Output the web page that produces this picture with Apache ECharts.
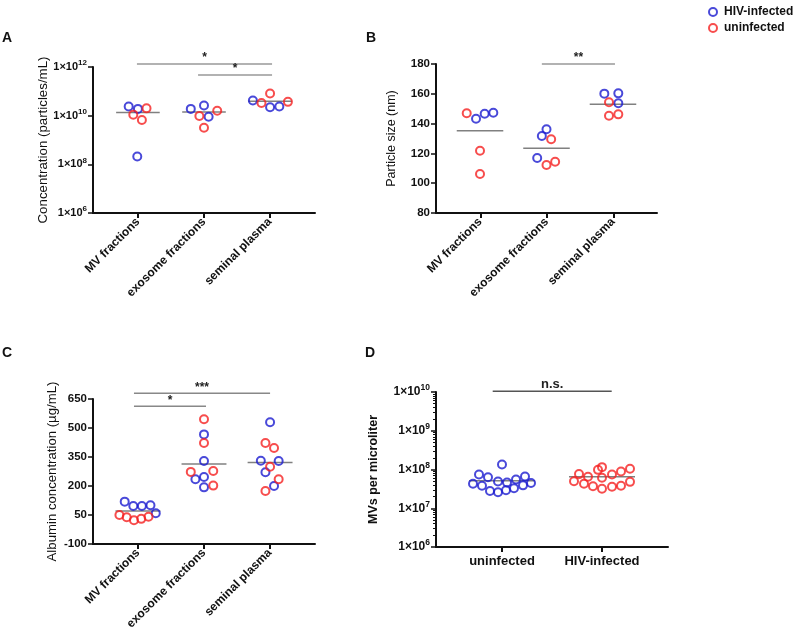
<!DOCTYPE html>
<html>
<head>
<meta charset="utf-8">
<script src="https://cdn.jsdelivr.net/npm/echarts@6/dist/echarts.min.js"></script>
<style>html,body{margin:0;padding:0;background:#fff}#c{width:800px;height:635px}</style>
</head>
<body>
<div id="c"></div>
<script>
// ---------- DATA ----------
const catsABC = ['MV fractions', 'exosome fractions', 'seminal plasma'];
const catsD = ['uninfected', 'HIV-infected'];

// Panel A: concentration (particles/mL), x = category position incl. jitter
const aBlueX = [0.86, 1.0, 0.99, 1.80, 2.0, 2.07, 2.74, 3.0, 3.14];
const aBlueY = [2.4e10, 1.9e10, 2.1e8, 1.9e10, 2.6e10, 9.1e9, 4.2e10, 2.2e10, 2.4e10];
const aRedX = [1.13, 0.93, 1.06, 2.20, 1.93, 2.0, 2.87, 3.0, 3.27];
const aRedY = [2.0e10, 1.1e10, 6.6e9, 1.6e10, 9.7e9, 3.2e9, 3.3e10, 8.2e10, 3.7e10];
const aMean = [1.35e10, 1.4e10, 3.9e10];
const aTickExp = [6, 8, 10, 12];

// Panel B: particle size (nm)
const bBlueX = [0.94, 1.07, 1.20, 2.0, 1.93, 1.86, 2.87, 3.08, 3.08];
const bBlueY = [143.3, 146.6, 147.3, 136.2, 131.7, 116.9, 160.1, 160.3, 153.6];
const bRedX = [0.80, 1.0, 1.0, 2.07, 2.0, 2.13, 2.94, 2.94, 3.08];
const bRedY = [146.9, 121.8, 106.2, 129.5, 112.2, 114.4, 154.3, 145.3, 146.2];
const bMean = [135.2, 123.4, 153.0];
const bTicks = [80, 100, 120, 140, 160, 180];

// Panel C: albumin concentration (µg/mL)
const cBlueX = [0.80, 0.93, 1.06, 1.19, 1.27, 2.0, 2.0, 1.87, 2.0, 2.0, 3.0, 2.86, 3.13, 2.93, 3.06];
const cBlueY = [119, 97, 97, 100, 59, 467, 329, 235, 247, 193, 530, 331, 329, 271, 200];
const cRedX = [0.72, 0.83, 0.94, 1.05, 1.16, 2.0, 2.0, 1.80, 2.14, 2.14, 2.93, 3.06, 3.0, 3.13, 2.93];
const cRedY = [50, 38, 23, 30, 41, 545, 422, 273, 278, 202, 422, 397, 300, 235, 174];
const cMean = [71, 314, 321];
const cTicks = [-100, 50, 200, 350, 500, 650];

// Panel D: MVs per microliter
const dUninfX = [1.0, 0.77, 0.86, 1.23, 0.96, 1.14, 1.05, 0.71, 0.80, 1.21, 1.29, 1.12, 0.88, 0.96, 1.04];
const dUninfY = [1.35e8, 7.4e7, 6.3e7, 6.6e7, 4.9e7, 5.5e7, 4.6e7, 4.3e7, 3.8e7, 3.9e7, 4.5e7, 3.3e7, 2.8e7, 2.6e7, 2.9e7];
const dHivX = [2.0, 1.96, 2.28, 2.19, 1.77, 2.10, 1.86, 2.0, 1.72, 2.28, 1.82, 1.91, 2.19, 2.10, 2.0];
const dHivY = [1.15e8, 9.8e7, 1.05e8, 8.9e7, 7.6e7, 7.4e7, 6.5e7, 6.1e7, 5.0e7, 4.8e7, 4.3e7, 3.7e7, 3.8e7, 3.6e7, 3.2e7];
const dMean = [5.1e7, 6.5e7];
const dTickExp = [6, 7, 8, 9, 10];

// significance brackets: [fromX, toX, yLevel, text]
const sigA = [[0.985, 3.03, 1.33e12, '*'], [1.91, 3.03, 4.7e11, '*']];
const sigB = [[1.93, 3.03, 180, '**']];
const sigC = [[0.94, 3.0, 680, '***'], [0.94, 2.03, 612, '*']];
const sigD = [[0.907, 2.097, 1.04e10, 'n.s.']];

// ---------- STYLE ----------
const FONT = 'Liberation Sans, Arial, sans-serif';
const BLUE = '#1c1cd0', RED = '#f52020';
const MEANC = '#808080';

const chart = echarts.init(document.getElementById('c'), null, {renderer: 'canvas'});

const grids = [
  {left: 93, top: 67, width: 222, height: 146},
  {left: 105, top: 67, width: 198, height: 146},
  {left: 436, top: 64, width: 221, height: 149},
  {left: 447, top: 64, width: 199.5, height: 149},
  {left: 93, top: 399, width: 222, height: 145},
  {left: 105, top: 399, width: 198, height: 145},
  {left: 436, top: 392, width: 232, height: 155},
  {left: 452, top: 392, width: 200, height: 155}
];

const axisLine = {show: true, onZero: false, lineStyle: {color: '#111', width: 2}};
function mainX(gi, min, max) {
  return {type: 'value', gridIndex: gi, min: min, max: max, axisLine: axisLine,
    axisTick: {show: false}, axisLabel: {show: false}, splitLine: {show: false}};
}
function catX(gi, data, rotate) {
  return {type: 'category', gridIndex: gi, data: data, axisLine: {show: false, onZero: false},
    axisTick: {show: true, alignWithLabel: true, length: 5, lineStyle: {color: '#111', width: 2}},
    axisLabel: {rotate: rotate, margin: rotate ? 7 : 8, fontFamily: FONT, fontWeight: 'bold', fontSize: rotate ? 12 : 13, color: '#111'},
    splitLine: {show: false}};
}
const hiddenY = gi => ({type: 'value', gridIndex: gi, show: false});
function expRich(big) {
  return {
    b: {fontFamily: FONT, fontSize: big ? 12 : 11, color: '#111', fontWeight: 'bold'},
    s: {fontFamily: FONT, fontSize: big ? 8.5 : 8, color: '#111', fontWeight: 'bold', padding: [0, 0, 8, 0]}
  };
}

const xAxis = [
  mainX(0, 0.32, 3.68), catX(1, catsABC, 45),
  mainX(2, 0.338, 3.662), catX(3, catsABC, 45),
  mainX(4, 0.32, 3.68), catX(5, catsABC, 45),
  mainX(6, 0.34, 2.66), catX(7, catsD, 0)
];
const yTickCommon = {show: true, length: 5, lineStyle: {color: '#111', width: 1.5}};
const yAxis = [
  {type: 'log', gridIndex: 0, logBase: 10, min: Math.pow(10, aTickExp[0]), max: Math.pow(10, aTickExp[aTickExp.length - 1]), interval: 2,
    axisLine: axisLine, axisTick: yTickCommon, splitLine: {show: false},
    axisLabel: {margin: 6, formatter: v => '{b|1×10}{s|' + Math.round(Math.log10(v)) + '}', rich: expRich(false)},
    name: 'Concentration (particles/mL)', nameLocation: 'middle', nameGap: 43,
    nameTextStyle: {fontFamily: FONT, fontSize: 13.3, color: '#111'}},
  hiddenY(1),
  {type: 'value', gridIndex: 2, min: bTicks[0], max: bTicks[bTicks.length - 1], interval: bTicks[1] - bTicks[0],
    axisLine: axisLine, axisTick: yTickCommon, splitLine: {show: false},
    axisLabel: {margin: 6, fontFamily: FONT, fontWeight: 'bold', fontSize: 11.5, color: '#111'},
    name: 'Particle size (nm)', nameLocation: 'middle', nameGap: 38,
    nameTextStyle: {fontFamily: FONT, fontSize: 12.5, color: '#111'}},
  hiddenY(3),
  {type: 'value', gridIndex: 4, min: cTicks[0], max: cTicks[cTicks.length - 1], interval: cTicks[1] - cTicks[0],
    axisLine: axisLine, axisTick: yTickCommon, splitLine: {show: false},
    axisLabel: {margin: 6, fontFamily: FONT, fontWeight: 'bold', fontSize: 11.5, color: '#111'},
    name: 'Albumin concentration (µg/mL)', nameLocation: 'middle', nameGap: 34,
    nameTextStyle: {fontFamily: FONT, fontSize: 13.2, color: '#111'}},
  hiddenY(5),
  {type: 'log', gridIndex: 6, logBase: 10, min: Math.pow(10, dTickExp[0]), max: Math.pow(10, dTickExp[dTickExp.length - 1]), interval: 1,
    axisLine: axisLine, axisTick: yTickCommon, splitLine: {show: false},
    minorTick: {show: true, splitNumber: 9, length: 3, lineStyle: {color: '#111', width: 1}},
    axisLabel: {margin: 6, formatter: v => '{b|1×10}{s|' + Math.round(Math.log10(v)) + '}', rich: expRich(true)},
    name: 'MVs per microliter', nameLocation: 'middle', nameGap: 56,
    nameTextStyle: {fontFamily: FONT, fontSize: 12.5, fontWeight: 'bold', color: '#111'}},
  hiddenY(7)
];

const series = [];
function pts(xs, ys) { return xs.map((x, i) => [x, ys[i]]); }
function scatter(name, gi, xs, ys, color) {
  series.push({type: 'scatter', name: name, xAxisIndex: gi, yAxisIndex: gi, data: pts(xs, ys),
    symbol: 'circle', symbolSize: 8, z: 5,
    itemStyle: {color: 'rgba(255,255,255,0)', borderColor: color, borderWidth: 2}});
}
function means(gi, vals, half) {
  vals.forEach((m, i) => {
    series.push({type: 'line', xAxisIndex: gi, yAxisIndex: gi, data: [[i + 1 - half, m], [i + 1 + half, m]],
      symbol: 'none', z: 3, lineStyle: {color: MEANC, width: 1.5}, silent: true});
  });
}
function sigs(gi, list, color, bold) {
  list.forEach(s => {
    series.push({type: 'line', xAxisIndex: gi, yAxisIndex: gi, clip: false, z: 4,
      data: [[s[0], s[2]], {value: [(s[0] + s[1]) / 2, s[2]], label: {show: true, formatter: s[3]}}, [s[1], s[2]]],
      symbol: 'circle', symbolSize: 0, showSymbol: true,
      label: {show: false, position: 'top', distance: 0, fontFamily: FONT, fontSize: bold ? 13 : 12, fontWeight: 'bold', color: '#222'},
      lineStyle: {color: color, width: 1.5}, silent: true});
  });
}

scatter('HIV-infected', 0, aBlueX, aBlueY, BLUE);
scatter('uninfected', 0, aRedX, aRedY, RED);
means(0, aMean, 0.33);
sigs(0, sigA, '#999');

scatter('HIV-infected', 2, bBlueX, bBlueY, BLUE);
scatter('uninfected', 2, bRedX, bRedY, RED);
means(2, bMean, 0.35);
sigs(2, sigB, '#999');

scatter('HIV-infected', 4, cBlueX, cBlueY, BLUE);
scatter('uninfected', 4, cRedX, cRedY, RED);
means(4, cMean, 0.34);
sigs(4, sigC, '#888');

scatter('D-uninfected', 6, dUninfX, dUninfY, BLUE);
scatter('D-HIV', 6, dHivX, dHivY, RED);
means(6, dMean, 0.33);
sigs(6, sigD, '#555', true);

const letter = (t, x, y) => ({type: 'text', left: x, top: y,
  style: {text: t, font: 'bold 14px ' + FONT, fill: '#111'}});

chart.setOption({
  animation: false,
  grid: grids,
  xAxis: xAxis,
  yAxis: yAxis,
  series: series,
  legend: {data: ['HIV-infected', 'uninfected'], orient: 'vertical', left: 703, top: 1,
    itemWidth: 8, itemHeight: 8, itemGap: 4,
    textStyle: {fontFamily: FONT, fontSize: 12, fontWeight: 'bold', color: '#111', padding: [0, 0, 0, 2]}},
  graphic: [letter('A', 2, 31), letter('B', 366, 31), letter('C', 2, 346), letter('D', 365, 346)]
});
</script>
</body>
</html>
